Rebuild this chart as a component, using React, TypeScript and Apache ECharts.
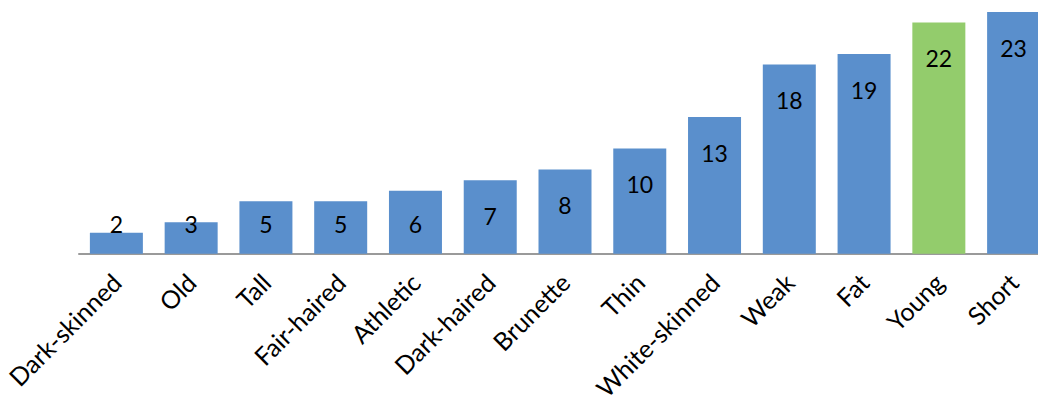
import React, { useEffect, useRef } from "react";
import * as echarts from "echarts";

const categories = ["Dark-skinned", "Old", "Tall", "Fair-haired", "Athletic", "Dark-haired", "Brunette", "Thin", "White-skinned", "Weak", "Fat", "Young", "Short"];
const values = [2, 3, 5, 5, 6, 7, 8, 10, 13, 18, 19, 22, 23];
const highlighted = ["Young"];

const BLUE = "#5A8FCC";
const GREEN = "#93CC6C";

export default function App() {
  const ref = useRef<HTMLDivElement>(null);
  useEffect(() => {
    if (!ref.current) return;
    const chart = echarts.init(ref.current, undefined, { renderer: "svg" });
    const data = values.map((v, i) => {
      const small = v <= 6;
      return {
        value: v,
        itemStyle: { color: highlighted.includes(categories[i]) ? GREEN : BLUE },
        label: small
          ? { position: "insideBottom", distance: 18 }
          : { position: "insideTop", distance: 24 },
      };
    });
    chart.setOption({
      animation: false,
      grid: { left: 79, right: 0, top: 1.5, bottom: 146, containLabel: false },
      xAxis: {
        type: "category",
        data: categories,
        axisLine: { lineStyle: { color: "#9A9A9A", width: 2 } },
        axisTick: { show: false },
        axisLabel: {
          interval: 0,
          rotate: 45,
          margin: 24,
          color: "#000",
          fontSize: 25,
          fontFamily: "Lato",
        },
      },
      yAxis: {
        type: "value",
        min: 0,
        max: 24,
        show: false,
        splitLine: { show: false },
      },
      series: [
        {
          type: "bar",
          data,
          barWidth: 53,
          label: {
            show: true,
            color: "#000",
            fontSize: 23,
            fontFamily: "Lato",
          },
        },
      ],
    });
    return () => chart.dispose();
  }, []);
  return (
    <div style={{ position: "fixed", left: 0, top: 0, width: 1038, height: 403, overflow: "hidden", background: "#fff" }}>
      <div ref={ref} style={{ position: "absolute", left: 0, top: 0, width: 1051, height: 403 }} />
    </div>
  );
}
